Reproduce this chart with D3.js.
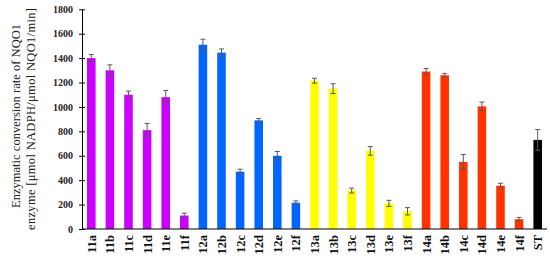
<!DOCTYPE html>
<html>
<head>
<meta charset="utf-8">
<script src="https://cdn.jsdelivr.net/npm/d3@7"></script>
<style>
  body { margin: 0; background: #fff; }
  svg { display: block; }
</style>
</head>
<body>
<div id="chart"></div>
<script>
// compounds, rates and errors
var compounds = ["11a","11b","11c","11d","11e","11f",
                 "12a","12b","12c","12d","12e","12f",
                 "13a","13b","13c","13d","13e","13f",
                 "14a","14b","14c","14d","14e","14f","ST"];
var rates = [1400, 1300, 1100, 810, 1080, 110,
             1510, 1445, 470, 890, 600, 215,
             1215, 1150, 315, 640, 210, 145,
             1290, 1260, 550, 1005, 355, 80, 730];
var errors = [30, 45, 30, 55, 55, 20,
              45, 30, 20, 15, 35, 15,
              20, 40, 20, 35, 25, 30,
              25, 15, 60, 35, 20, 15, 85];
var series = ["11","11","11","11","11","11",
              "12","12","12","12","12","12",
              "13","13","13","13","13","13",
              "14","14","14","14","14","14","ST"];
var yTicks = [0, 200, 400, 600, 800, 1000, 1200, 1400, 1600, 1800];

var colors = {"11": "#cc00ff", "12": "#0066ff", "13": "#ffff00", "14": "#ff3300", "ST": "#000000"};

var svgWidth = 550, svgHeight = 258;
var margin = {top: 9.3, right: 3, bottom: 29, left: 82};
var chartWidth = svgWidth - margin.left - margin.right;
var chartHeight = svgHeight - margin.top - margin.bottom;
var serif = "'Liberation Serif', 'Times New Roman', serif";

var svg = d3.select("#chart").append("svg")
    .attr("width", svgWidth)
    .attr("height", svgHeight);

var chartGroup = svg.append("g")
    .attr("transform", `translate(${margin.left}, ${margin.top})`);

var data = compounds.map(function(c, i) {
  return {name: c, value: rates[i], err: errors[i], group: series[i]};
});

var xScale = d3.scaleBand()
    .domain(compounds)
    .range([0, chartWidth])
    .paddingInner(0.54)
    .paddingOuter(0.27);

var yScale = d3.scaleLinear()
    .domain([0, 1800])
    .range([chartHeight, 0]);

// bars
chartGroup.append("g").selectAll("rect")
    .data(data)
    .enter()
    .append("rect")
    .attr("x", d => xScale(d.name))
    .attr("y", d => yScale(d.value))
    .attr("width", xScale.bandwidth())
    .attr("height", d => chartHeight - yScale(d.value))
    .attr("fill", d => colors[d.group]);

// error bars
var errGroup = chartGroup.append("g")
    .attr("stroke", "#5a5a5a")
    .attr("stroke-width", 1);

var cx = d => xScale(d.name) + xScale.bandwidth() / 2;

errGroup.selectAll("line.v")
    .data(data)
    .enter()
    .append("line")
    .attr("class", "v")
    .attr("x1", cx)
    .attr("x2", cx)
    .attr("y1", d => yScale(d.value - d.err))
    .attr("y2", d => yScale(d.value + d.err));

errGroup.selectAll("line.top")
    .data(data)
    .enter()
    .append("line")
    .attr("class", "top")
    .attr("x1", d => cx(d) - 2.5)
    .attr("x2", d => cx(d) + 2.5)
    .attr("y1", d => yScale(d.value + d.err))
    .attr("y2", d => yScale(d.value + d.err));

errGroup.selectAll("line.bot")
    .data(data)
    .enter()
    .append("line")
    .attr("class", "bot")
    .attr("x1", d => cx(d) - 2.5)
    .attr("x2", d => cx(d) + 2.5)
    .attr("y1", d => yScale(d.value - d.err))
    .attr("y2", d => yScale(d.value - d.err));

// y axis, ticks cross the line
var leftAxis = d3.axisLeft(yScale)
    .tickValues(yTicks)
    .tickFormat(d3.format("d"))
    .tickSizeInner(3)
    .tickSizeOuter(0)
    .tickPadding(6);

var yAxisG = chartGroup.append("g")
    .call(leftAxis)
    .attr("font-family", serif);
yAxisG.select(".domain").attr("stroke", "#000");
yAxisG.selectAll(".tick line").attr("x1", -3).attr("x2", 3).attr("stroke", "#000");
yAxisG.selectAll("text")
    .attr("font-size", 10)
    .attr("font-weight", "bold")
    .attr("fill", "#222");

// x axis line
chartGroup.append("line")
    .attr("x1", 0)
    .attr("x2", chartWidth)
    .attr("y1", chartHeight)
    .attr("y2", chartHeight)
    .attr("stroke", "#000");

// x labels rotated
chartGroup.append("g").selectAll("text")
    .data(compounds)
    .enter()
    .append("text")
    .attr("transform", d => `translate(${xScale(d) + xScale.bandwidth() / 2 + 4.5}, ${chartHeight + 6}) rotate(-90)`)
    .attr("text-anchor", "end")
    .attr("font-family", serif)
    .attr("font-size", 12.5)
    .attr("font-weight", "bold")
    .attr("fill", "#111")
    .text(d => d);

// y title, two justified lines
var titleLines = ["Enzymatic conversion rate of NQO1",
                  "enzyme [\u03bcmol NADPH/\u03bcmol NQO1/min]"];
var titleLengths = [184, 222];
svg.append("g").selectAll("text")
    .data(titleLines)
    .enter()
    .append("text")
    .attr("transform", (d, i) => `translate(${20 + i * 15}, ${116 + i * 3}) rotate(-90)`)
    .attr("text-anchor", "middle")
    .attr("font-family", serif)
    .attr("font-size", 12.5)
    .attr("fill", "#222")
    .attr("textLength", (d, i) => titleLengths[i])
    .attr("lengthAdjust", "spacing")
    .text(d => d);
</script>
</body>
</html>
